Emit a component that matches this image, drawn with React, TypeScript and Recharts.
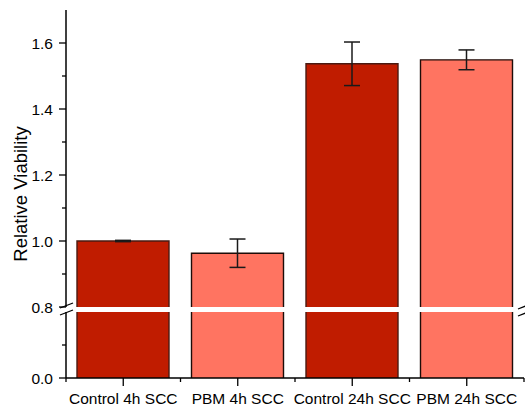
import { Bar, BarChart, ErrorBar, XAxis, YAxis } from 'recharts';

const categories = ['Control 4h SCC', 'PBM 4h SCC', 'Control 24h SCC', 'PBM 24h SCC'];
const viability = [1.0, 0.963, 1.537, 1.549];
const viabilityErr = [0.002, 0.043, 0.066, 0.03];
const upperTicks = [0.8, 0.9, 1.0, 1.1, 1.2, 1.3, 1.4, 1.5, 1.6];
const upperLabels = ['0.8', '1.0', '1.2', '1.4', '1.6'];
const lowerTicks = [0, 0.4];
const lowerLabels = ['0.0'];

const data = categories.map((name, i) => ({
  name,
  value: viability[i],
  err: viabilityErr[i],
}));

const FONT = '"Liberation Sans", Arial, sans-serif';
const AXIS_X = 66;
const BAND = 114.5;
const fills = ['#c01c00', '#ff7461', '#c01c00', '#ff7461'];
const strokes = ['#4a1a12', '#1e0c08', '#4a1a12', '#1e0c08'];

function makeYTick(labels: string[]) {
  return function YTick(props: any) {
    const { y, payload } = props;
    const label = labels.find((l) => Math.abs(parseFloat(l) - payload.value) < 1e-6);
    const len = label ? 7 : 4;
    return (
      <g>
        <line x1={AXIS_X - len} x2={AXIS_X} y1={y} y2={y} stroke="#000" strokeWidth={1.3} />
        {label && (
          <text x={AXIS_X - 13} y={y} textAnchor="end" dominantBaseline="central" fontSize={15.5} fontFamily={FONT} fill="#000">
            {label}
          </text>
        )}
      </g>
    );
  };
}

function XTick(props: any) {
  const { x, y, payload, index } = props;
  const left = x - BAND / 2;
  return (
    <g>
      <line x1={x} x2={x} y1={y} y2={y + 8} stroke="#000" strokeWidth={1.3} />
      <line x1={left} x2={left} y1={y} y2={y + 4} stroke="#000" strokeWidth={1.3} />
      {index === categories.length - 1 && (
        <line x1={x + BAND / 2} x2={x + BAND / 2} y1={y} y2={y + 4} stroke="#000" strokeWidth={1.3} />
      )}
      <text x={x} y={y + 26} textAnchor="middle" fontSize={15.5} fontFamily={FONT} fill="#000">
        {payload.value}
      </text>
    </g>
  );
}

function UpperBar(props: any) {
  const { x, y, width, height, index } = props;
  return (
    <g>
      <rect x={x} y={y} width={width} height={height} fill={fills[index]} />
      <path
        d={`M${x},${y + height} L${x},${y} L${x + width},${y} L${x + width},${y + height}`}
        fill="none"
        stroke={strokes[index]}
        strokeWidth={1.4}
      />
    </g>
  );
}

function LowerBar(props: any) {
  const { x, y, width, height, index } = props;
  const top = Math.max(y, 0);
  const bottom = y + height;
  return (
    <g>
      <rect x={x} y={top} width={width} height={bottom - top} fill={fills[index]} />
      <path
        d={`M${x},${top} L${x},${bottom} M${x + width},${top} L${x + width},${bottom}`}
        fill="none"
        stroke={strokes[index]}
        strokeWidth={1.4}
      />
    </g>
  );
}

export default function App() {
  return (
    <div style={{ position: 'absolute', left: 0, top: 0, width: 525, height: 408, background: '#fff' }}>
      <div style={{ position: 'absolute', left: 0, top: 0 }}>
        <BarChart width={525} height={320} data={data} margin={{ top: 10, right: 1, left: 0, bottom: 13 }} barSize={92}>
          <XAxis dataKey="name" hide />
          <XAxis xAxisId="top" dataKey="name" orientation="top" height={0} tick={false} tickLine={false} axisLine={{ stroke: '#000', strokeWidth: 1.5 }} />
          <YAxis
            width={66}
            domain={[0.8, 1.7]}
            ticks={upperTicks}
            interval={0}
            tick={makeYTick(upperLabels)}
            tickLine={false}
            axisLine={{ stroke: '#000', strokeWidth: 1.5 }}
          />
          <YAxis yAxisId="r" orientation="right" width={0} tick={false} tickLine={false} axisLine={{ stroke: '#000', strokeWidth: 1.5 }} />
          <Bar dataKey="value" shape={UpperBar} isAnimationActive={false}>
            <ErrorBar dataKey="err" width={8} stroke="#1a1a1a" strokeWidth={1.5} direction="y" />
          </Bar>
        </BarChart>
      </div>
      <div style={{ position: 'absolute', left: 0, top: 312 }}>
        <BarChart width={525} height={96} data={data} margin={{ top: 0, right: 1, left: 0, bottom: 0 }} barSize={92}>
          <XAxis
            dataKey="name"
            height={30}
            interval={0}
            tick={XTick}
            tickSize={0}
            tickMargin={0}
            tickLine={false}
            axisLine={{ stroke: '#000', strokeWidth: 1.5 }}
          />
          <YAxis
            width={66}
            domain={[0, 0.8]}
            allowDataOverflow
            ticks={lowerTicks}
            interval={0}
            tick={makeYTick(lowerLabels)}
            tickLine={false}
            axisLine={{ stroke: '#000', strokeWidth: 1.5 }}
          />
          <YAxis yAxisId="r" orientation="right" width={0} tick={false} tickLine={false} axisLine={{ stroke: '#000', strokeWidth: 1.5 }} />
          <Bar dataKey="value" shape={LowerBar} isAnimationActive={false} />
        </BarChart>
      </div>
      <svg width={525} height={408} style={{ position: 'absolute', left: 0, top: 0, pointerEvents: 'none' }}>
        <line x1={60} y1={308} x2={73} y2={303} stroke="#000" strokeWidth={1.3} />
        <line x1={60} y1={315} x2={73} y2={310} stroke="#000" strokeWidth={1.3} />
        <line x1={518} y1={309} x2={531} y2={304} stroke="#000" strokeWidth={1.3} />
        <line x1={518} y1={316} x2={531} y2={311} stroke="#000" strokeWidth={1.3} />
        <text
          x={20}
          y={194}
          transform="rotate(-90 20 194)"
          textAnchor="middle"
          dominantBaseline="central"
          fontSize={18.5}
          fontFamily={FONT}
          fill="#000"
        >
          Relative Viability
        </text>
      </svg>
    </div>
  );
}
